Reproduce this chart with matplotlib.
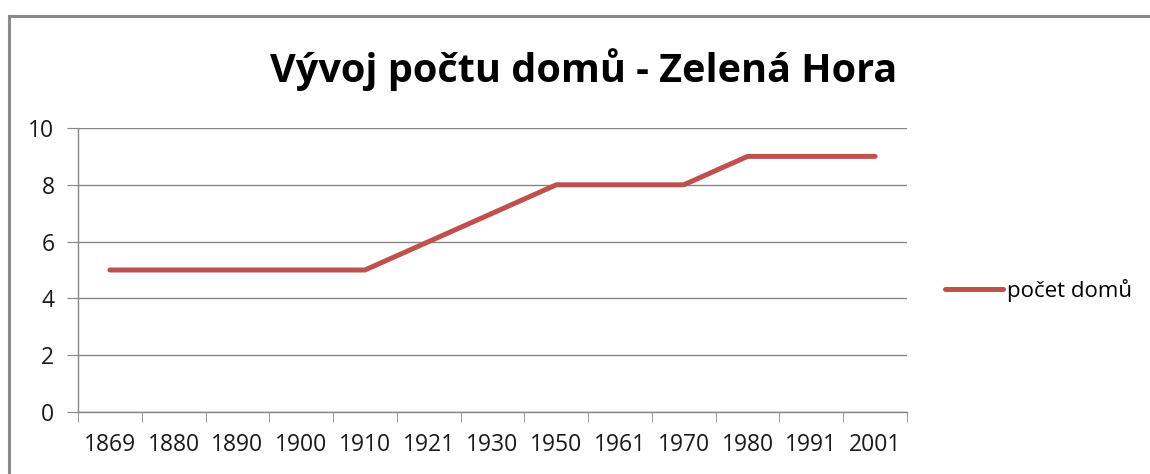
import matplotlib.pyplot as plt
from matplotlib.lines import Line2D

# data
years = ["1869", "1880", "1890", "1900", "1910", "1921", "1930",
         "1950", "1961", "1970", "1980", "1991", "2001"]
houses = [5, 5, 5, 5, 5, 6, 7, 8, 8, 8, 9, 9, 9]

plt.rcParams['font.family'] = ['Open Sans', 'DejaVu Sans']

fig = plt.figure(figsize=(11.5, 4.74), dpi=100)
ax = fig.add_axes([78/1150, 62/474, (907-78)/1150, (412-128)/474])

x = list(range(len(years)))
ax.plot(x, houses, color="#C0504D", lw=3.6, solid_capstyle="round",
        solid_joinstyle="round", label="počet domů", zorder=3)

ax.set_xlim(-0.5, len(years) - 0.5)
ax.set_ylim(0, 10)
ax.set_yticks(range(0, 11, 2))
ax.grid(axis="y", color="#868686", lw=1)
ax.set_axisbelow(True)

ax.set_xticks(x)
ax.set_xticklabels(years)
ax.set_xticks([i - 0.5 for i in range(len(years) + 1)], minor=True)
ax.tick_params(axis="x", which="major", length=0, pad=15,
               labelsize=16.5, labelcolor="#1a1a1a")
ax.tick_params(axis="x", which="minor", length=7, color="#868686", direction="out")
ax.tick_params(axis="y", length=8, color="#868686", pad=9,
               labelsize=16.5, labelcolor="#1a1a1a")

for s in ["top", "right"]:
    ax.spines[s].set_visible(False)
for s in ["left", "bottom"]:
    ax.spines[s].set_color("#868686")
    ax.spines[s].set_linewidth(1)

fig.text(584/1150, 1 - 70/474, "Vývoj počtu domů - Zelená Hora",
         ha="center", va="center", fontsize=28.5, fontweight="bold")

leg = fig.legend(loc="center left", bbox_to_anchor=(925/1150, 1 - 290/474),
                 frameon=False, fontsize=16, handlelength=2.6,
                 handletextpad=0.2)

# outer chart border (top and left edges)
fig.add_artist(Line2D([9/1150, 1], [1 - 16/474, 1 - 16/474],
                      transform=fig.transFigure, color="#898989", lw=2.2))
fig.add_artist(Line2D([9/1150, 9/1150], [0, 1 - 16/474],
                      transform=fig.transFigure, color="#898989", lw=2.2))

fig.savefig("out.png", dpi=100)
